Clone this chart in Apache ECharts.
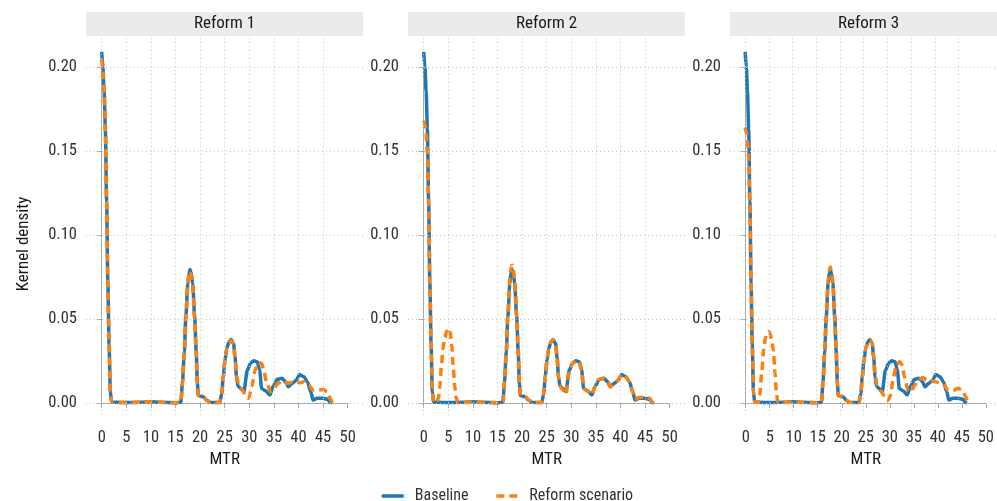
<!DOCTYPE html>
<html><head><meta charset="utf-8">
<script src="https://cdn.jsdelivr.net/npm/echarts@6/dist/echarts.min.js"></script>
<style>html,body{margin:0;padding:0;background:#fff}#c{width:997px;height:501px}</style>
</head><body><div id="c"></div>
<script>
const panelTitles = ['Reform 1', 'Reform 2', 'Reform 3'];
const seriesNames = ['Baseline', 'Reform scenario'];
const xAxisTitle = 'MTR';
const yAxisTitle = 'Kernel density';
const gridXValues = [0, 5, 10, 15, 20, 25, 30, 35, 40, 45];
const gridYValues = [0, 0.05, 0.10, 0.15, 0.20];

const baselineX = [0,0.25,0.5,0.75,1.0,1.25,1.5,1.75,2.0,4,8,10,12,15,16.1,16.4,16.8,17.1,17.5,17.75,17.95,18.2,18.5,18.9,19.2,19.45,19.65,20.1,20.7,21.3,22.0,24.0,24.4,24.7,25.07,25.4,25.9,26.3,26.8,27.1,27.4,27.7,28.25,28.9,29.6,30.3,30.96,31.6,32.1,32.5,33.3,34.2,34.8,35.7,36.6,37.4,37.9,38.75,39.6,40.2,41.1,41.8,42.5,42.95,43.8,44.85,45.9,46.5,46.8];
const baselineY = [0.209,0.200,0.185,0.163,0.120,0.072,0.035,0.007,0.0005,0.0003,0.0004,0.0007,0.0004,0.0002,0.0005,0.0117,0.031,0.051,0.071,0.0775,0.0795,0.0775,0.071,0.051,0.031,0.0117,0.0044,0.0042,0.0036,0.0018,0.0004,0.0003,0.0057,0.0156,0.0255,0.0325,0.0364,0.0378,0.0354,0.0275,0.0156,0.0100,0.0087,0.0067,0.0196,0.0240,0.0251,0.0245,0.0196,0.0087,0.0073,0.0048,0.0097,0.0141,0.0147,0.0127,0.0097,0.0117,0.0137,0.0170,0.0156,0.0127,0.0067,0.0018,0.0028,0.0028,0.0022,0.0002,0.0];

const reform1X = [0,0.25,0.5,0.75,1.0,1.25,1.5,1.75,2.0,4,8,10,12,15,16.1,16.4,16.8,17.1,17.5,17.75,17.95,18.2,18.5,18.9,19.2,19.45,19.65,20.1,20.7,21.3,22.0,24.0,24.4,24.7,25.07,25.4,25.9,26.3,26.8,27.1,27.4,27.8,28.6,29.4,29.9,30.5,31.2,31.8,32.5,32.9,33.5,34.3,34.95,35.9,36.7,37.7,38.4,39.1,40.4,41.1,42.1,42.9,44.1,45.0,45.9,46.5,46.9];
const reform1Y = [0.205,0.197,0.184,0.162,0.120,0.072,0.035,0.007,0.0005,0.0003,0.0004,0.0007,0.0004,0.0002,0.0005,0.0115,0.030,0.050,0.070,0.0765,0.0785,0.0765,0.070,0.050,0.030,0.0115,0.0044,0.0042,0.0036,0.0018,0.0004,0.0003,0.0057,0.0156,0.0255,0.0322,0.0360,0.0372,0.0350,0.0275,0.0160,0.0117,0.0077,0.0034,0.0028,0.0097,0.0196,0.0240,0.0236,0.0196,0.0127,0.0067,0.0087,0.0117,0.0133,0.0117,0.0121,0.0127,0.0121,0.0127,0.0107,0.0077,0.0077,0.0081,0.0067,0.0022,0.0];

const reform2X = [0,0.25,0.5,0.75,1.0,1.25,1.5,1.75,2.0,2.6,3.0,3.3,3.6,3.9,4.3,4.7,5.1,5.4,5.7,6.0,6.3,6.6,7.0,10,15,16.1,16.4,16.8,17.1,17.5,17.75,17.95,18.2,18.5,18.9,19.2,19.45,19.65,20.1,20.7,21.3,22.0,24.0,24.4,24.7,25.07,25.4,25.9,26.3,26.8,27.1,27.4,27.7,28.25,28.9,29.6,30.3,30.96,31.6,32.1,32.5,33.3,34.2,34.8,35.7,36.6,37.4,37.9,38.75,39.6,40.2,41.1,41.8,42.5,42.95,43.8,44.85,45.9,46.5,46.8];
const reform2Y = [0.168,0.166,0.160,0.149,0.120,0.072,0.035,0.007,0.0005,0.0003,0.003,0.010,0.022,0.032,0.039,0.043,0.0445,0.042,0.034,0.022,0.010,0.003,0.0003,0.0004,0.0002,0.0005,0.012,0.032,0.053,0.074,0.080,0.082,0.0795,0.073,0.052,0.031,0.0117,0.0044,0.0042,0.0036,0.0018,0.0004,0.0003,0.0057,0.0156,0.0255,0.0325,0.0364,0.0378,0.0354,0.0275,0.0156,0.0100,0.0080,0.0052,0.0190,0.0240,0.0251,0.0245,0.0196,0.0087,0.0073,0.0048,0.0097,0.0141,0.0147,0.0127,0.0097,0.0117,0.0137,0.0170,0.0156,0.0127,0.0067,0.0022,0.0033,0.0036,0.0028,0.0004,0.0];

const reform3X = [0,0.25,0.5,0.75,1.0,1.25,1.5,1.75,2.0,2.8,3.1,3.5,3.9,4.3,4.7,5.0,5.3,5.6,5.96,6.3,6.6,6.9,10,15,16.1,16.4,16.8,17.1,17.5,17.75,17.95,18.2,18.5,18.9,19.2,19.45,19.65,20.1,20.7,21.3,22.0,24.0,24.4,24.7,25.07,25.4,25.9,26.3,26.8,27.1,27.4,27.85,28.5,29.1,29.5,30.2,30.7,31.2,31.9,32.6,33.1,33.6,34.3,35.0,35.8,36.65,37.5,38.3,39.0,40.0,41.0,41.9,42.75,43.8,44.9,45.8,46.5,46.9];
const reform3Y = [0.164,0.161,0.155,0.146,0.118,0.072,0.035,0.007,0.0005,0.0003,0.005,0.018,0.0315,0.039,0.042,0.0425,0.041,0.037,0.0315,0.018,0.006,0.0003,0.0004,0.0002,0.0005,0.012,0.032,0.052,0.073,0.079,0.081,0.0785,0.072,0.051,0.031,0.0117,0.0044,0.0042,0.0036,0.0018,0.0004,0.0003,0.0057,0.0156,0.0255,0.0325,0.0364,0.0376,0.0352,0.0275,0.0160,0.0105,0.0075,0.0053,0.0022,0.0018,0.0048,0.0147,0.0226,0.0245,0.0226,0.0156,0.0077,0.0067,0.0107,0.0141,0.0152,0.0137,0.0137,0.0127,0.0121,0.0107,0.0077,0.0073,0.0087,0.0077,0.0038,0.0];

const reformX = [reform1X, reform2X, reform3X];
const reformY = [reform1Y, reform2Y, reform3Y];

const FONT = "'Roboto Condensed','Liberation Sans Narrow','DejaVu Sans Condensed',Roboto,sans-serif";
const BLUE = '#1f77b4', ORANGE = '#ff7f0e', AXIS = '#a3a3a3', TXT = '#333333';

function zip(xs, ys) { return xs.map((x, i) => [x, ys[i]]); }

// layout
const panelLeft = [86, 408, 730];
const PW = 277, PTOP = 36, PBOT = 415;
const X0OFF = 15.7, XW = 246;
const Y0 = 403, YH = 336;
const xpu = XW / 50, ypu = YH / 0.2;

const grid = [], xAxis = [], yAxis = [], series = [], graphic = [];
panelLeft.forEach((L, i) => {
  grid.push({ left: L + X0OFF, top: Y0 - YH, width: XW, height: YH });
  grid.push({ left: L, top: PTOP, width: PW, height: PBOT - PTOP });
  const fi = 2 * i, pi = 2 * i + 1;
  xAxis.push({
    gridIndex: fi, type: 'value', min: 0, max: 50, interval: 5, offset: PBOT - Y0 + 5,
    axisLine: { show: true, lineStyle: { color: AXIS, width: 1 } },
    axisTick: { show: true, length: 5, lineStyle: { color: AXIS } },
    axisLabel: { margin: 9, fontSize: 16.5, color: TXT, fontFamily: FONT },
    splitLine: { show: false },
    name: xAxisTitle, nameLocation: 'middle', nameGap: 30,
    nameTextStyle: { fontSize: 17, color: '#1a1a1a', fontFamily: FONT }
  });
  yAxis.push({
    gridIndex: fi, type: 'value', min: 0, max: 0.2, interval: 0.05, offset: X0OFF,
    axisLine: { show: true, lineStyle: { color: AXIS, width: 1 } },
    axisTick: { show: true, length: 5, lineStyle: { color: AXIS } },
    axisLabel: { margin: 9, fontSize: 16.5, color: TXT, fontFamily: FONT, formatter: v => v.toFixed(2) },
    splitLine: { show: false },
    name: i === 0 ? yAxisTitle : '', nameLocation: 'middle', nameGap: 54,
    nameTextStyle: { fontSize: 17, color: '#1a1a1a', fontFamily: FONT, padding: [0, 18, 0, 0] }
  });
  xAxis.push({ gridIndex: pi, type: 'value', show: false, min: -X0OFF / xpu, max: (PW - X0OFF) / xpu, splitLine: { show: false } });
  yAxis.push({ gridIndex: pi, type: 'value', show: false, min: -(PBOT - Y0) / ypu, max: (Y0 - PTOP) / ypu, splitLine: { show: false } });

  series.push({
    name: 'grid' + i, type: 'line', xAxisIndex: pi, yAxisIndex: pi, data: [], z: 1, silent: true,
    markLine: {
      silent: true, symbol: 'none', label: { show: false },
      lineStyle: { type: [1, 3], color: '#c4c4c4', width: 1 },
      data: gridXValues.map(v => ({ xAxis: v })).concat(gridYValues.map(v => ({ yAxis: v })))
    }
  });
  series.push({
    name: seriesNames[0], type: 'line', xAxisIndex: pi, yAxisIndex: pi,
    data: zip(baselineX, baselineY), symbol: 'none', showSymbol: false, smooth: 0.25, smoothMonotone: 'x',
    lineStyle: { color: BLUE, width: 3.5 }, itemStyle: { color: BLUE }, z: 3
  });
  series.push({
    name: seriesNames[1], type: 'line', xAxisIndex: pi, yAxisIndex: pi,
    data: zip(reformX[i], reformY[i]), symbol: 'none', showSymbol: false, smooth: 0.25, smoothMonotone: 'x',
    lineStyle: { color: ORANGE, width: 3.5, type: [8, 5] }, itemStyle: { color: ORANGE }, z: 4
  });

  graphic.push({ type: 'rect', left: L, top: 12, shape: { width: PW, height: 24 }, style: { fill: '#ebebeb' }, silent: true, z: 0 });
  graphic.push({ type: 'text', style: { text: panelTitles[i], x: L + PW / 2, y: 23.5, textAlign: 'center', textVerticalAlign: 'middle', fontSize: 17, fontFamily: FONT, fill: '#1a1a1a' }, silent: true });
});

const chart = echarts.init(document.getElementById('c'), null, { renderer: 'canvas' });
chart.setOption({
  animation: false,
  backgroundColor: '#ffffff',
  grid, xAxis, yAxis, series, graphic,
  legend: {
    data: seriesNames.map(n => ({ name: n })),
    left: 375, top: 483, itemWidth: 22, itemHeight: 14, itemGap: 26,
    itemStyle: { opacity: 0 },
    lineStyle: { width: 3.5 },
    textStyle: { fontSize: 16, color: TXT, fontFamily: FONT, padding: [0, 0, 0, 6] }
  }
});
</script></body></html>
